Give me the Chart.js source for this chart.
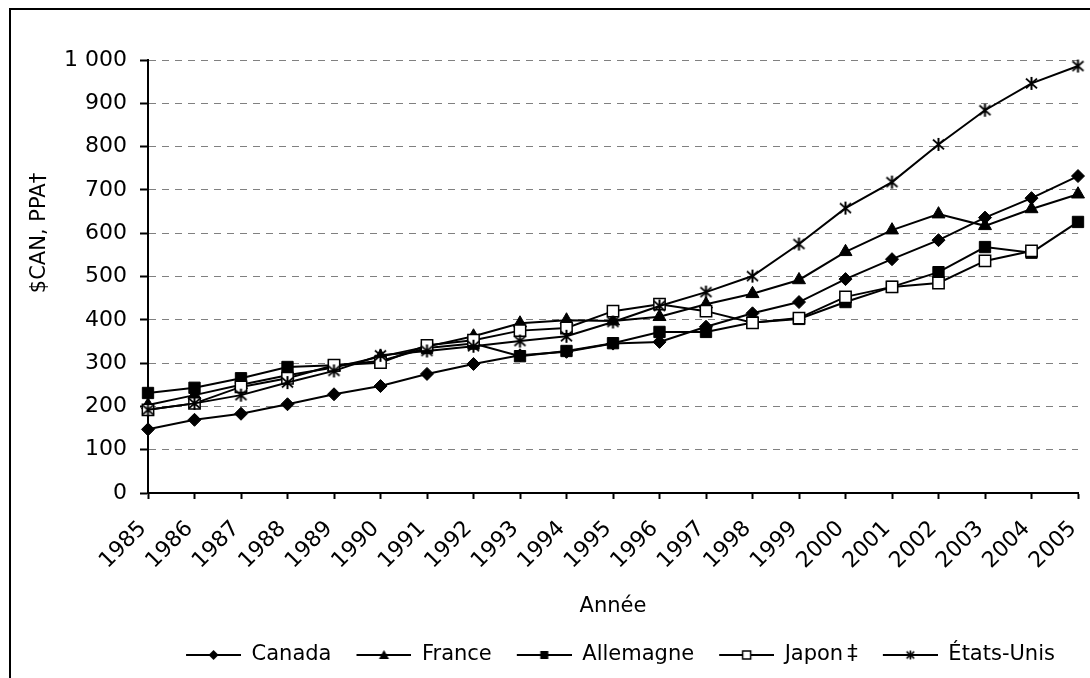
<!DOCTYPE html>
<html lang="fr">
<head>
    <meta charset="UTF-8">
    <title>$CAN, PPA par année</title>
    <script src="https://cdn.jsdelivr.net/npm/chart.js"></script>
    <style>
        body {
            margin: 0;
            padding: 0;
            background: #fff;
            overflow: hidden;
        }
        canvas {
            display: block;
        }
    </style>
</head>
<body>
    <canvas id="chart" width="1090" height="678"></canvas>

    <script>
        // Data
        const years = ['1985', '1986', '1987', '1988', '1989', '1990', '1991', '1992', '1993', '1994', '1995',
                       '1996', '1997', '1998', '1999', '2000', '2001', '2002', '2003', '2004', '2005'];
        const canada = [147, 169, 183, 205, 228, 247, 275, 298, 318, 326, 345, 349, 384, 415, 441, 494, 540, 584, 636, 681, 732];
        const france = [203, 226, 250, 272, 290, 315, 338, 362, 392, 399, 397, 407, 436, 460, 492, 557, 607, 644, 617, 656, 690];
        const allemagne = [231, 243, 265, 291, 295, 305, 335, 345, 316, 328, 346, 372, 372, 394, 402, 441, 476, 510, 568, 555, 626];
        const japon = [192, 207, 245, 265, 295, 301, 341, 353, 375, 381, 420, 436, 420, 393, 404, 453, 476, 485, 536, 559, null];
        const etatsUnis = [192, 207, 226, 255, 282, 318, 328, 339, 351, 362, 395, 432, 464, 501, 575, 658, 718, 805, 884, 946, 986];
        const seriesNames = ['Canada', 'France', 'Allemagne', 'Japon\u2009\u2021', '\u00c9tats-Unis'];

        const FONT = 'DejaVu Sans';

        // asterisk marker (6 arms) drawn on a small canvas
        function asterisk(size, lw) {
            const c = document.createElement('canvas');
            c.width = size; c.height = size;
            const g = c.getContext('2d');
            const m = size / 2, r = size / 2 - 1;
            g.strokeStyle = '#000';
            g.lineWidth = lw;
            g.beginPath();
            g.moveTo(m, m - r); g.lineTo(m, m + r);
            g.moveTo(m - r * 0.85, m - r * 0.75); g.lineTo(m + r * 0.85, m + r * 0.75);
            g.moveTo(m + r * 0.85, m - r * 0.75); g.lineTo(m - r * 0.85, m + r * 0.75);
            g.stroke();
            return c;
        }

        // legend icon: line with the marker in the middle (blank room on the left as spacing)
        function legendIcon(kind) {
            const c = document.createElement('canvas');
            c.width = 70; c.height = 20;
            const g = c.getContext('2d');
            const cx = 42.5, cy = 10;
            g.strokeStyle = '#000';
            g.fillStyle = '#000';
            g.lineWidth = 2;
            g.beginPath();
            g.moveTo(15, cy); g.lineTo(70, cy);
            g.stroke();
            g.lineWidth = 1;
            g.beginPath();
            if (kind === 'diamond') {
                g.moveTo(cx, cy - 5); g.lineTo(cx + 5, cy); g.lineTo(cx, cy + 5); g.lineTo(cx - 5, cy);
                g.closePath(); g.fill();
            } else if (kind === 'triangle') {
                g.moveTo(cx, cy - 5); g.lineTo(cx + 5, cy + 4); g.lineTo(cx - 5, cy + 4);
                g.closePath(); g.fill();
            } else if (kind === 'square') {
                g.fillRect(cx - 4, cy - 4, 8, 8);
            } else if (kind === 'open') {
                g.fillStyle = '#fff';
                g.fillRect(cx - 4, cy - 4, 8, 8);
                g.lineWidth = 1.5;
                g.strokeRect(cx - 4, cy - 4, 8, 8);
            } else if (kind === 'star') {
                g.drawImage(asterisk(11, 1.6), cx - 5.5, cy - 5.5);
            }
            return c;
        }

        const legendIcons = [legendIcon('diamond'), legendIcon('triangle'), legendIcon('square'), legendIcon('open'), legendIcon('star')];
        const starPoint = asterisk(15, 2);

        function makeSet(i, data, style, radius, fill, order) {
            return {
                label: seriesNames[i],
                data: data,
                borderColor: '#000',
                borderWidth: 2,
                pointStyle: style,
                pointRadius: radius,
                pointHoverRadius: radius,
                pointBackgroundColor: fill,
                pointBorderColor: '#000',
                pointBorderWidth: fill === '#fff' ? 1.5 : 1,
                tension: 0,
                clip: false,
                order: order
            };
        }

        // border around the whole figure and rotated y title
        const framePlugin = {
            id: 'frame',
            afterDraw(chart) {
                const ctx = chart.ctx;
                ctx.save();
                ctx.strokeStyle = '#000';
                ctx.lineWidth = 2;
                ctx.strokeRect(10, 9, 1200, 1200);
                ctx.translate(40, 233);
                ctx.rotate(-Math.PI / 2);
                ctx.font = '21px "' + FONT + '"';
                ctx.fillStyle = '#000';
                ctx.textAlign = 'center';
                ctx.textBaseline = 'middle';
                ctx.fillText('$CAN, PPA\u2020', 0, 0);
                ctx.restore();
            }
        };

        Chart.defaults.font.family = FONT;
        Chart.defaults.color = '#000';

        new Chart(document.getElementById('chart').getContext('2d'), {
            type: 'line',
            data: {
                labels: years,
                datasets: [
                    makeSet(0, canada, 'rectRot', 6.5, '#000', 5),
                    makeSet(1, france, 'triangle', 7.5, '#000', 4),
                    makeSet(2, allemagne, 'rect', 8, '#000', 3),
                    makeSet(3, japon, 'rect', 8, '#fff', 2),
                    makeSet(4, etatsUnis, starPoint, 7, '#000', 1)
                ]
            },
            options: {
                responsive: false,
                animation: false,
                layout: {
                    padding: { left: 10, right: 12, top: 60, bottom: 2.5 }
                },
                plugins: {
                    tooltip: { enabled: false },
                    legend: {
                        position: 'bottom',
                        fullSize: false,
                        labels: {
                            usePointStyle: true,
                            pointStyleWidth: 70,
                            padding: 10,
                            font: { size: 21 },
                            generateLabels(chart) {
                                const items = Chart.defaults.plugins.legend.labels.generateLabels(chart);
                                items.sort((a, b) => a.datasetIndex - b.datasetIndex);
                                items.forEach(item => { item.pointStyle = legendIcons[item.datasetIndex]; });
                                return items;
                            }
                        }
                    }
                },
                scales: {
                    x: {
                        offset: false,
                        afterFit: (scale) => {
                            scale.height = 141.5;
                            scale.paddingRight = 0;
                        },
                        grid: {
                            offset: false,
                            drawOnChartArea: false,
                            drawTicks: true,
                            tickLength: 6,
                            tickColor: '#000',
                            tickWidth: 2
                        },
                        border: { color: '#000', width: 2 },
                        ticks: {
                            autoSkip: false,
                            maxRotation: 45,
                            minRotation: 45,
                            padding: 12,
                            font: { size: 22 },
                            // trailing space pulls the rotated label back from the tick like the original
                            callback: function (v, i) { return this.getLabelForValue(v) + ' '; }
                        },
                        title: {
                            display: true,
                            text: 'Ann\u00e9e',
                            font: { size: 21, lineHeight: 1.2 },
                            padding: { top: 4, bottom: 15 }
                        }
                    },
                    y: {
                        min: 0,
                        max: 1000,
                        afterFit: (scale) => { scale.width = 138; },
                        grid: {
                            color: '#808080',
                            lineWidth: 1,
                            drawTicks: true,
                            tickLength: 8,
                            tickColor: '#000',
                            tickWidth: 2,
                            tickBorderDash: []
                        },
                        border: { color: '#000', width: 2, dash: [7, 6] },
                        ticks: {
                            stepSize: 100,
                            padding: 13,
                            font: { size: 22 },
                            callback: (v) => v >= 1000 ? Math.floor(v / 1000) + '\u00a0' + String(v % 1000).padStart(3, '0') : String(v)
                        }
                    }
                }
            },
            plugins: [framePlugin]
        });
    </script>
</body>
</html>
